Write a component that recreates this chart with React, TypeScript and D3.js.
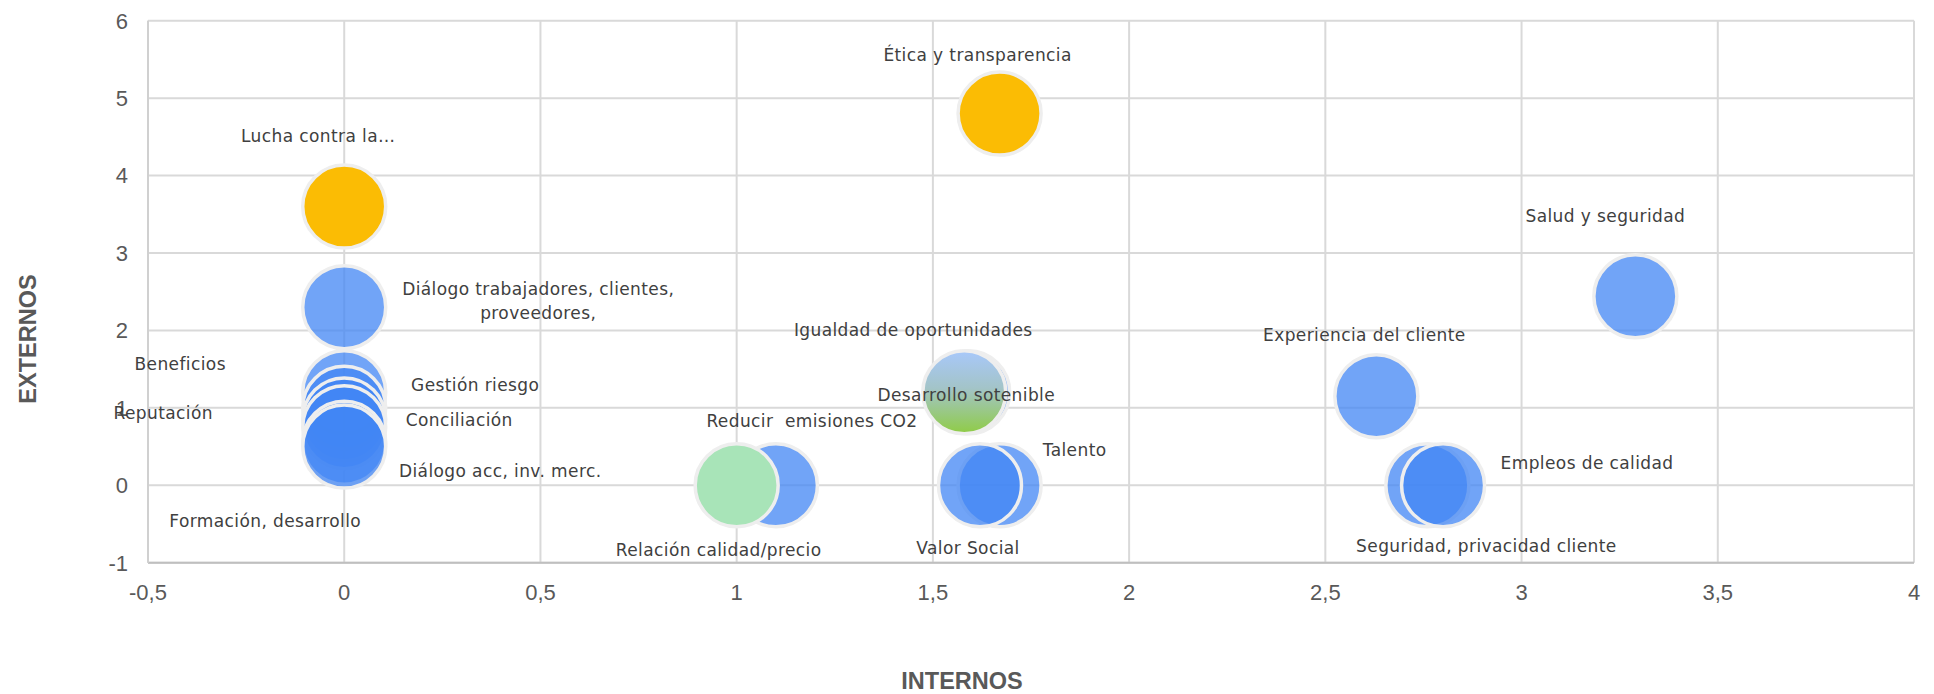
import React, { useEffect } from "react";
import * as d3 from "d3";

// ---- data (in drawing order) ----
const labels = [
  "Lucha contra la…",
  "Ética y transparencia",
  "Diálogo trabajadores, clientes,|proveedores,",
  "Beneficios",
  "Gestión riesgo",
  "Reputación",
  "Conciliación",
  "Diálogo acc, inv. merc.",
  "Formación, desarrollo",
  "Igualdad de oportunidades",
  "Desarrollo sotenible",
  "Reducir  emisiones CO2",
  "Relación calidad/precio",
  "Talento",
  "Valor Social",
  "Experiencia del cliente",
  "Salud y seguridad",
  "Seguridad, privacidad cliente",
  "Empleos de calidad",
];
const internos = [0, 1.67, 0, 0, 0, 0, 0, 0, 0, 1.59, 1.58, 1.1, 1.0, 1.67, 1.62, 2.63, 3.29, 2.76, 2.8];
const externos = [3.6, 4.8, 2.3, 1.2, 1.0, 0.85, 0.75, 0.55, 0.5, 1.2, 1.2, 0, 0, 0, 0, 1.15, 2.44, 0, 0];
const bubbleSize = [1, 1, 1, 1, 1, 1, 1, 1, 1, 1, 1, 1, 1, 1, 1, 1, 1, 1, 1];

const xTicks = [-0.5, 0, 0.5, 1, 1.5, 2, 2.5, 3, 3.5, 4];
const yTicks = [-1, 0, 1, 2, 3, 4, 5, 6];

// ---- styling (kept apart from the data) ----
const fillKind = ["yellow", "yellow", "blue", "blue", "blue", "blue", "blue", "blue", "blue", "blue", "gradient", "blue", "green", "blue", "blue", "blue", "blue", "blue", "blue"];
const labelOffset: [number, number][] = [
  [-26, -71], [-22, -59], [194, -18], [-164, -28], [131, -23], [-181, -7], [115, -7], [156, 28], [-79, 74],
  [-55, -62], [2, 3], [36, -64], [-18, 65], [75, -35], [-12, 63], [-12, -61], [-30, -80], [59, 61], [144, -22],
];

const W = 1934, H = 694;
const M = { left: 148, right: 20, top: 20.7, bottom: 131.3 };

export default function App() {
  useEffect(() => {
    document.body.style.margin = "0";
    document.body.style.overflow = "hidden";
  }, []);

  const x = d3.scaleLinear().domain([-0.5, 4]).range([M.left, W - M.right]);
  const y = d3.scaleLinear().domain([-1, 6]).range([H - M.bottom, M.top]);
  const r = d3.scaleSqrt().domain([0, 1]).range([0, 41.5]);
  const fmt = (v: number) => String(v).replace(".", ",");

  const fills: Record<string, string> = {
    yellow: "#FBBC04",
    blue: "rgba(66,133,244,0.75)",
    green: "#A8E4B8",
    gradient: "url(#gradSost)",
  };

  const labelFont = "'DejaVu Sans', 'Noto Sans', sans-serif";

  return (
    <svg width={W} height={H} style={{ display: "block", background: "#fff" }}>
      <defs>
        <linearGradient id="gradSost" x1="0" y1="0" x2="0" y2="1">
          <stop offset="0" stopColor="#A8C8FA" />
          <stop offset="0.45" stopColor="#A3C4C8" />
          <stop offset="1" stopColor="#8FCC45" />
        </linearGradient>
      </defs>
      {/* grid */}
      {yTicks.map((t) => (
        <line key={"gy" + t} x1={x(-0.5)} x2={x(4)} y1={y(t)} y2={y(t)} stroke="#D9D9D9" strokeWidth={2} />
      ))}
      {xTicks.map((t) => (
        <line key={"gx" + t} x1={x(t)} x2={x(t)} y1={y(-1)} y2={y(6)} stroke="#D9D9D9" strokeWidth={2} />
      ))}
      <line x1={x(-0.5)} x2={x(4)} y1={y(-1)} y2={y(-1)} stroke="#BFBFBF" strokeWidth={2} />
      <line x1={x(-0.5)} x2={x(-0.5)} y1={y(-1)} y2={y(6)} stroke="#D0D0D0" strokeWidth={2} />

      {/* tick labels */}
      {yTicks.map((t) => (
        <text key={"ty" + t} x={x(-0.5) - 20} y={y(t)} dy="0.36em" textAnchor="end"
          fontFamily="'Liberation Sans', Arial, sans-serif" fontSize={22} fill="#595959">{fmt(t)}</text>
      ))}
      {xTicks.map((t) => (
        <text key={"tx" + t} x={x(t)} y={y(-1) + 29} dy="0.36em" textAnchor="middle"
          fontFamily="'Liberation Sans', Arial, sans-serif" fontSize={22} fill="#595959">{fmt(t)}</text>
      ))}

      {/* axis titles */}
      <text transform="translate(36,339) rotate(-90)" textAnchor="middle"
        fontFamily="'Liberation Sans', Arial, sans-serif" fontWeight="bold" fontSize={23.5} fill="#595959">EXTERNOS</text>
      <text x={962} y={689} textAnchor="middle"
        fontFamily="'Liberation Sans', Arial, sans-serif" fontWeight="bold" fontSize={23.5} fill="#595959">INTERNOS</text>

      {/* bubbles */}
      {labels.map((l, i) => (
        <circle key={"b" + i} cx={x(internos[i])} cy={y(externos[i])} r={r(bubbleSize[i])}
          fill={fills[fillKind[i]]} stroke="#EEEEEE" strokeWidth={3.5} />
      ))}

      {/* data labels */}
      {labels.map((l, i) => {
        const lines = l.split("|");
        const cx = x(internos[i]) + labelOffset[i][0];
        const cy = y(externos[i]) + labelOffset[i][1];
        return (
          <text key={"l" + i} x={cx} y={cy} textAnchor="middle" fontFamily={labelFont} fontSize={17}
            letterSpacing={0.4} fill="#404040">
            {lines.map((s, k) => (
              <tspan key={k} x={cx} dy={k === 0 ? "0.36em" : 23.3} xmlSpace="preserve">{s}</tspan>
            ))}
          </text>
        );
      })}
    </svg>
  );
}
